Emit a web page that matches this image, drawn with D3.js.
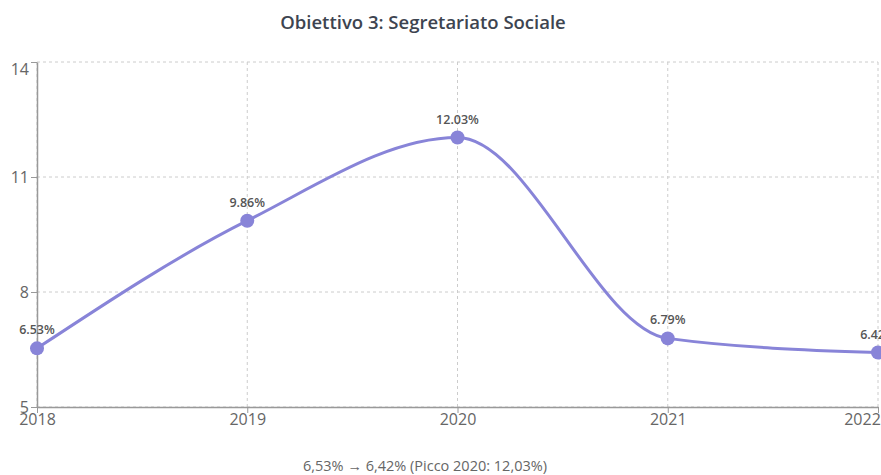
<!DOCTYPE html>
<html>
<head>
<meta charset="utf-8">
<script src="https://cdn.jsdelivr.net/npm/d3@7"></script>
<style>
  body { margin: 0; background: #fff; font-family: "Open Sans", "Noto Sans", sans-serif; }
</style>
</head>
<body>
<div id="chart"></div>
<script>
// Data
const years = ["2018", "2019", "2020", "2021", "2022"];
const values = [6.53, 9.86, 12.03, 6.79, 6.42];
const yTicks = [5, 8, 11, 14];
const title = "Obiettivo 3: Segretariato Sociale";
const footer = "6,53% \u2192 6,42% (Picco 2020: 12,03%)";

const width = 881;
const height = 475;
const marginTop = 62;
const marginRight = 3;
const marginBottom = 68;
const marginLeft = 37;

const svg = d3.select("#chart").append("svg")
    .attr("width", width)
    .attr("height", height);

// Scales
const x = d3.scalePoint()
    .domain(years)
    .range([marginLeft, width - marginRight]);

const y = d3.scaleLinear()
    .domain([5, 14])
    .range([height - marginBottom, marginTop]);

// Title
svg.append("text")
    .attr("x", 423)
    .attr("y", 29)
    .attr("text-anchor", "middle")
    .attr("font-size", 18.5)
    .attr("font-weight", 600)
    .attr("fill", "#3d4450")
    .text(title);

// Grid
const grid = svg.append("g")
    .attr("stroke", "#ccc")
    .attr("stroke-dasharray", "3 3");

grid.selectAll("line.h")
    .data(yTicks)
    .join("line")
    .attr("class", "h")
    .attr("x1", marginLeft)
    .attr("x2", width - marginRight)
    .attr("y1", d => y(d))
    .attr("y2", d => y(d));

grid.selectAll("line.v")
    .data(years)
    .join("line")
    .attr("class", "v")
    .attr("x1", d => x(d))
    .attr("x2", d => x(d))
    .attr("y1", marginTop)
    .attr("y2", height - marginBottom);

// Axes
const xAxis = svg.append("g")
    .attr("transform", `translate(0,${height - marginBottom})`)
    .call(d3.axisBottom(x).tickSize(6).tickSizeOuter(0));

const yAxis = svg.append("g")
    .attr("transform", `translate(${marginLeft},0)`)
    .call(d3.axisLeft(y).tickValues(yTicks).tickSize(6).tickSizeOuter(0));

[xAxis, yAxis].forEach(g => {
    g.select(".domain").attr("stroke", "#999").attr("stroke-width", 1.5);
    g.selectAll(".tick line").attr("stroke", "#999");
    g.selectAll(".tick text")
        .attr("fill", "#666")
        .attr("font-size", 16)
        .attr("font-family", "\"Open Sans\", \"Noto Sans\", sans-serif");
});
xAxis.selectAll(".tick text").attr("dy", "0.55em");
// last label is pushed left so it stays mostly inside the frame
xAxis.selectAll(".tick text").filter(d => d === years[years.length - 1]).attr("x", -16);
yAxis.selectAll(".tick text").attr("x", -8);
// top label sits a bit below its tick
yAxis.selectAll(".tick text").filter(d => d === yTicks[yTicks.length - 1]).attr("y", 7);

// Line
const line = d3.line()
    .x((d, i) => x(years[i]))
    .y(d => y(d))
    .curve(d3.curveMonotoneX);

svg.append("path")
    .datum(values)
    .attr("fill", "none")
    .attr("stroke", "#8884d8")
    .attr("stroke-width", 3)
    .attr("d", line);

// Dots
svg.selectAll("circle.dot")
    .data(values)
    .join("circle")
    .attr("class", "dot")
    .attr("cx", (d, i) => x(years[i]))
    .attr("cy", d => y(d))
    .attr("r", 7)
    .attr("fill", "#8884d8");

// Value labels
svg.selectAll("text.lbl")
    .data(values)
    .join("text")
    .attr("class", "lbl")
    .attr("x", (d, i) => x(years[i]))
    .attr("y", d => y(d) - 14)
    .attr("text-anchor", "middle")
    .attr("font-size", 12.5)
    .attr("font-weight", 600)
    .attr("fill", "#555")
    .text(d => d.toFixed(2) + "%");

// Footer
svg.append("text")
    .attr("x", 425)
    .attr("y", 471)
    .attr("text-anchor", "middle")
    .attr("font-size", 14.5)
    .attr("fill", "#666")
    .text(footer);
</script>
</body>
</html>
